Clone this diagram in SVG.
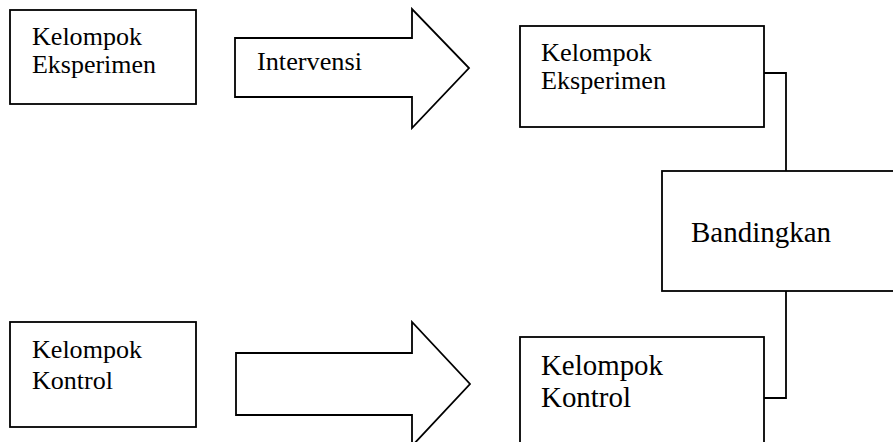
<svg xmlns="http://www.w3.org/2000/svg" width="893" height="442" viewBox="0 0 893 442">
<style>
.box{fill:#fff;stroke:#000;stroke-width:1.8}
.arrow{fill:#fff;stroke:#000;stroke-width:1.8;stroke-linejoin:miter}
.line{fill:none;stroke:#000;stroke-width:1.8}
text{font-family:'Liberation Serif',serif;fill:#000}
.s{font-size:25px}
.l{font-size:29px}
</style>
<rect width="893" height="442" fill="#fff"/>
<g id="connectors">
<polyline class="line" points="764,73 786,73 786,171"/>
<polyline class="line" points="786,291 786,398 764,398"/>
</g>
<g id="kelompok-eksperimen-1">
<rect class="box" x="10" y="10" width="186" height="94"/>
<text class="s" x="32" y="45" textLength="110" lengthAdjust="spacingAndGlyphs">Kelompok</text>
<text class="s" x="32" y="73" textLength="124" lengthAdjust="spacingAndGlyphs">Eksperimen</text>
</g>
<g id="intervensi">
<polygon class="arrow" points="235,38 412,38 412,9 469,68 412,128 412,97 235,97"/>
<text class="s" x="257" y="70" textLength="105" lengthAdjust="spacingAndGlyphs">Intervensi</text>
</g>
<g id="kelompok-eksperimen-2">
<rect class="box" x="520" y="26" width="244" height="101"/>
<text class="s" x="541" y="61" textLength="111" lengthAdjust="spacingAndGlyphs">Kelompok</text>
<text class="s" x="541" y="89" textLength="125" lengthAdjust="spacingAndGlyphs">Eksperimen</text>
</g>
<g id="bandingkan">
<rect class="box" x="662" y="171" width="240" height="120"/>
<text class="l" x="691" y="242" textLength="140" lengthAdjust="spacingAndGlyphs">Bandingkan</text>
</g>
<g id="kelompok-kontrol-1">
<rect class="box" x="10" y="322" width="186" height="105"/>
<text class="s" x="32" y="358" textLength="110" lengthAdjust="spacingAndGlyphs">Kelompok</text>
<text class="s" x="32" y="389" textLength="81" lengthAdjust="spacingAndGlyphs">Kontrol</text>
</g>
<g id="arrow-kontrol">
<polygon class="arrow" points="236,353 412,353 412,322 470,384 412,446 412,415 236,415"/>
</g>
<g id="kelompok-kontrol-2">
<rect class="box" x="520" y="337" width="244" height="120"/>
<text class="l" x="541" y="375" textLength="122" lengthAdjust="spacingAndGlyphs">Kelompok</text>
<text class="l" x="541" y="407" textLength="90" lengthAdjust="spacingAndGlyphs">Kontrol</text>
</g>
</svg>
